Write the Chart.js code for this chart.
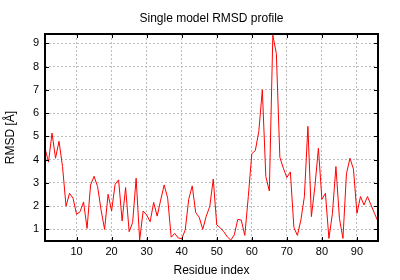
<!DOCTYPE html>
<html>
<head>
<meta charset="utf-8">
<script src="https://cdn.jsdelivr.net/npm/chart.js@4"></script>
<style>
  html, body { margin: 0; padding: 0; background: #fff; }
  #wrap { width: 400px; height: 280px; }
</style>
</head>
<body>
<div id="wrap"><canvas id="rmsd"></canvas></div>
<script>
const residues = [];
for (let i = 1; i <= 96; i++) residues.push(i);

const rmsd = [
    4.49, 3.89, 5.14, 4.06, 4.79, 3.70, 2.00, 2.55, 2.34, 1.65,
    1.76, 2.18, 1.04, 2.91, 3.28, 2.84, 1.83, 1.00, 2.51, 1.79,
    2.94, 3.13, 1.36, 2.80, 0.90, 1.29, 3.20, 0.54, 1.79, 1.62,
    1.33, 2.16, 1.57, 2.26, 2.91, 2.34, 0.66, 0.83, 0.63, 0.60,
    0.97, 2.29, 2.87, 1.72, 1.52, 1.00, 1.57, 1.98, 3.16, 1.19,
    1.07, 0.90, 0.68, 0.54, 0.76, 1.43, 1.40, 0.74, 2.41, 4.25,
    4.39, 5.21, 7.00, 3.27, 2.65, 9.35, 8.56, 4.10, 3.63, 3.23,
    3.47, 1.09, 0.74, 1.40, 2.41, 5.43, 1.55, 2.84, 4.49, 2.29,
    2.55, 0.61, 1.69, 3.70, 1.47, 0.61, 3.39, 4.06, 3.59, 1.69,
    2.41, 2.05, 2.41, 2.05, 1.69, 1.33
];

const xTicks = [10, 20, 30, 40, 50, 60, 70, 80, 90];
const yTicks = [1, 2, 3, 4, 5, 6, 7, 8, 9];

const FONT = 'Liberation Sans, Arial, sans-serif';

// gnuplot style frame with inward ticks on all four sides
const framePlugin = {
    id: 'frame',
    afterDraw(chart) {
        const ctx = chart.ctx;
        const a = chart.chartArea;
        const xs = chart.scales.x;
        const ys = chart.scales.y;
        ctx.save();
        ctx.strokeStyle = '#000';
        ctx.lineWidth = 1;
        ctx.beginPath();
        xTicks.forEach(v => {
            const px = Math.round(xs.getPixelForValue(v)) + 0.5;
            ctx.moveTo(px, a.bottom); ctx.lineTo(px, a.bottom - 4);
            ctx.moveTo(px, a.top); ctx.lineTo(px, a.top + 4);
        });
        yTicks.forEach(v => {
            const py = Math.round(ys.getPixelForValue(v)) + 0.5;
            ctx.moveTo(a.left, py); ctx.lineTo(a.left + 4, py);
            ctx.moveTo(a.right, py); ctx.lineTo(a.right - 4, py);
        });
        ctx.stroke();
        ctx.lineWidth = 2;
        ctx.strokeRect(a.left, a.top, a.right - a.left, a.bottom - a.top);
        ctx.restore();
    }
};

new Chart(document.getElementById('rmsd'), {
    type: 'line',
    data: {
        labels: residues,
        datasets: [{
            data: residues.map((r, i) => ({ x: r, y: rmsd[i] })),
            borderColor: '#ff0000',
            borderWidth: 1,
            pointRadius: 0,
            tension: 0,
            clip: 2
        }]
    },
    options: {
        responsive: true,
        maintainAspectRatio: false,
        animation: false,
        layout: { padding: { left: 0, right: 22, top: 0, bottom: 0 } },
        plugins: {
            legend: { display: false },
            tooltip: { enabled: false },
            title: {
                display: true,
                fullSize: false,
                text: 'Single model RMSD profile',
                color: '#000',
                font: { family: FONT, size: 12, weight: 'normal' },
                padding: { top: 11, bottom: 8.6 }
            }
        },
        scales: {
            x: {
                type: 'linear',
                min: 1,
                max: 96,
                afterBuildTicks: s => { s.ticks = xTicks.map(v => ({ value: v })); },
                afterFit: s => { s.height = 39; },
                border: { display: false, dash: [2, 2] },
                grid: { color: '#bdbdbd', drawTicks: false },
                ticks: { color: '#000', padding: 4, maxRotation: 0, font: { family: FONT, size: 11 } },
                title: {
                    display: true,
                    text: 'Residue index',
                    color: '#000',
                    font: { family: FONT, size: 12 },
                    padding: { top: 0, bottom: 2 }
                }
            },
            y: {
                min: 0.5,
                max: 9.4,
                afterBuildTicks: s => { s.ticks = yTicks.map(v => ({ value: v })); },
                afterFit: s => { s.width = 45; },
                border: { display: false, dash: [2, 2] },
                grid: { color: '#bdbdbd', drawTicks: false },
                ticks: { color: '#000', padding: 6, font: { family: FONT, size: 11 } },
                title: {
                    display: true,
                    text: 'RMSD [Å]',
                    color: '#000',
                    font: { family: FONT, size: 12 },
                    padding: { top: 3, bottom: 0 }
                }
            }
        }
    },
    plugins: [framePlugin]
});
</script>
</body>
</html>
